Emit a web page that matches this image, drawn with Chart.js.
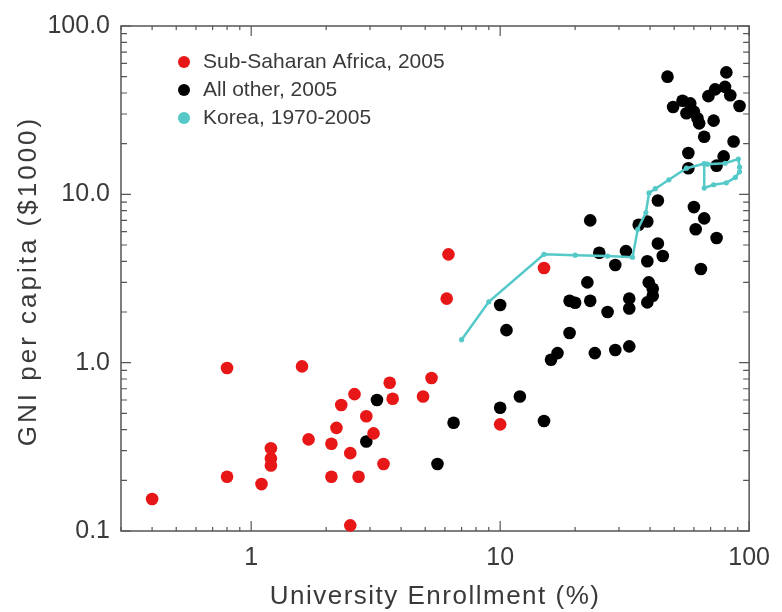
<!DOCTYPE html>
<html>
<head>
<meta charset="utf-8">
<script src="https://cdn.jsdelivr.net/npm/chart.js@4.4.0/dist/chart.umd.min.js"></script>
<style>
  html, body { margin: 0; padding: 0; background: #fff; }
</style>
</head>
<body>
<canvas id="myChart" width="782" height="612"></canvas>
<script>
// Sub-Saharan Africa, 2005
const africaX = [0.40, 0.80, 0.80, 1.6, 1.2, 1.2, 1.2, 1.1, 1.7, 2.1, 2.1, 2.2, 2.3, 2.6, 2.5, 2.5, 2.7, 2.9, 3.1, 3.4, 3.6, 3.7, 4.9, 5.3, 6.2, 6.1, 15, 10];
const africaY = [0.155, 0.93, 0.21, 0.95, 0.31, 0.27, 0.245, 0.19, 0.35, 0.33, 0.21, 0.41, 0.56, 0.65, 0.29, 0.108, 0.21, 0.48, 0.38, 0.25, 0.76, 0.61, 0.63, 0.81, 4.4, 2.4, 3.65, 0.43];

// All other, 2005
const otherX = [2.9, 3.2, 5.6, 6.5, 10, 12, 15, 10, 10.6, 16, 17, 19, 19, 20, 22.4, 23, 24, 23, 25, 29, 32, 39, 27, 33, 33, 39.5, 41, 41, 39, 29, 33, 43, 39, 36, 43, 45, 60, 66, 61, 74, 64, 47, 81, 49.5, 54, 58, 60, 62, 63, 56, 68.6, 73, 80, 84, 91.5, 72, 66, 86.6, 57, 57, 74, 79];
const otherY = [0.34, 0.60, 0.25, 0.44, 0.54, 0.63, 0.45, 2.2, 1.56, 1.04, 1.14, 1.5, 2.33, 2.27, 3.0, 2.33, 1.14, 7.0, 4.5, 3.8, 4.6, 4.0, 2.0, 2.4, 2.1, 3.0, 2.75, 2.5, 2.28, 1.19, 1.25, 9.2, 6.9, 6.6, 5.1, 4.3, 8.4, 7.2, 6.2, 5.5, 3.6, 50, 53, 33, 36, 34.7, 31, 28.3, 26.4, 30.3, 38.3, 42, 43.5, 38.8, 33.5, 27.4, 22, 20.6, 17.6, 14.3, 14.8, 16.8];

// Korea, 1970-2005
const koreaX = [7.0, 9.0, 15, 20, 27, 34, 35.7, 38.5, 39.6, 42, 47.6, 56, 66, 66, 72, 81, 88, 91.5, 91.5, 90.5, 80, 68];
const koreaY = [1.37, 2.3, 4.4, 4.35, 4.3, 4.23, 6.2, 7.8, 10.2, 10.8, 12.2, 14.3, 15.2, 10.9, 11.4, 11.7, 12.6, 13.6, 14.5, 16.2, 15.3, 15.1];

const xTickLabels = [1, 10, 100];
const yTickLabels = [0.1, 1, 10, 100];
const xTitle = "University Enrollment (%)";
const yTitle = "GNI per capita ($1000)";

const RED = "#e81717";
const BLACK = "#000000";
const CYAN = "#55c8c8";
const TEXT = "#3a3a3a";
const FONT = '"Liberation Sans", Arial, sans-serif';

function pts(xs, ys) {
  return xs.map((x, i) => ({ x: x, y: ys[i] }));
}

// box with inward ticks on all four sides
const frameTicks = {
  id: "frameTicks",
  beforeDatasetsDraw(chart) {
    const { ctx, chartArea: a } = chart;
    const xs = chart.scales.x;
    const ys = chart.scales.y;
    ctx.save();
    ctx.strokeStyle = "#555";
    ctx.lineWidth = 1.5;
    ctx.strokeRect(a.left, a.top, a.right - a.left, a.bottom - a.top);
    ctx.lineWidth = 1.2;
    ctx.beginPath();
    for (let e = -1; e <= 2; e++) {
      for (let m = 1; m <= 9; m++) {
        const v = m * Math.pow(10, e);
        const major = m === 1;
        if (v >= 0.299 && v <= 100.01) {
          const px = xs.getPixelForValue(v);
          const len = major ? 10 : 4;
          ctx.moveTo(px, a.bottom);
          ctx.lineTo(px, a.bottom - len);
          ctx.moveTo(px, a.top);
          ctx.lineTo(px, a.top + len);
        }
        if (v >= 0.099 && v <= 100.01) {
          const py = ys.getPixelForValue(v);
          const len = major ? 10 : 6;
          ctx.moveTo(a.left, py);
          ctx.lineTo(a.left + len, py);
          ctx.moveTo(a.right, py);
          ctx.lineTo(a.right - len, py);
        }
      }
    }
    ctx.stroke();
    ctx.restore();
  },
  afterDraw(chart) {
    const { ctx, chartArea: a } = chart;
    ctx.save();
    ctx.fillStyle = TEXT;
    ctx.font = "26px " + FONT;
    ctx.textAlign = "center";
    ctx.textBaseline = "middle";
    ctx.letterSpacing = "1.5px";
    ctx.fillText(xTitle, (a.left + a.right) / 2, 597);
    ctx.translate(29, 281);
    ctx.rotate(-Math.PI / 2);
    ctx.letterSpacing = "3px";
    ctx.fillText(yTitle, 0, 0);
    ctx.restore();
  }
};

const insideLegend = {
  id: "insideLegend",
  afterDatasetsDraw(chart) {
    const ctx = chart.ctx;
    ctx.save();
    ctx.font = "21px " + FONT;
    ctx.textBaseline = "middle";
    chart.data.datasets.forEach((ds, i) => {
      const y = 62 + i * 28;
      ctx.fillStyle = ds.pointBackgroundColor;
      ctx.beginPath();
      ctx.arc(184, y, 6, 0, Math.PI * 2);
      ctx.fill();
      ctx.fillStyle = TEXT;
      ctx.fillText(ds.label, 203, y);
    });
    ctx.restore();
  }
};

const ctx = document.getElementById("myChart");

new Chart(ctx, {
  type: "scatter",
  data: {
    datasets: [
      {
        label: "Sub-Saharan Africa, 2005",
        data: pts(africaX, africaY),
        pointBackgroundColor: RED,
        backgroundColor: RED,
        pointBorderWidth: 0,
        pointRadius: 6.3,
        clip: false,
        order: 1,
      },
      {
        label: "All other, 2005",
        data: pts(otherX, otherY),
        pointBackgroundColor: BLACK,
        backgroundColor: BLACK,
        pointBorderWidth: 0,
        pointRadius: 6.3,
        clip: false,
        order: 2,
      },
      {
        label: "Korea, 1970-2005",
        data: pts(koreaX, koreaY),
        showLine: true,
        borderColor: CYAN,
        borderWidth: 2.5,
        pointBackgroundColor: CYAN,
        pointBorderWidth: 0,
        pointRadius: 2.6,
        tension: 0,
        clip: false,
        order: 0,
      },
    ],
  },
  options: {
    responsive: false,
    animation: false,
    events: [],
    layout: { padding: { left: 0, right: 26, top: 22, bottom: 0 } },
    plugins: {
      legend: { display: false },
      tooltip: { enabled: false },
    },
    scales: {
      x: {
        type: "logarithmic",
        min: 0.3,
        max: 100,
        grid: { display: false, drawTicks: false },
        border: { display: false },
        afterBuildTicks: (s) => { s.ticks = xTickLabels.map((v) => ({ value: v })); },
        afterFit: (s) => { s.height = 81; },
        ticks: {
          autoSkip: false,
          maxRotation: 0,
          padding: 12,
          color: TEXT,
          font: { size: 25, family: FONT },
          callback: (v) => String(v),
        },
      },
      y: {
        type: "logarithmic",
        min: 0.1,
        max: 100,
        grid: { display: false, drawTicks: false },
        border: { display: false },
        afterBuildTicks: (s) => { s.ticks = yTickLabels.map((v) => ({ value: v })); },
        afterFit: (s) => { s.width = 121; },
        ticks: {
          autoSkip: false,
          padding: 11,
          color: TEXT,
          font: { size: 25, family: FONT },
          callback: (v) => Number(v).toFixed(1),
        },
      },
    },
  },
  plugins: [frameTicks, insideLegend],
});
</script>
</body>
</html>
